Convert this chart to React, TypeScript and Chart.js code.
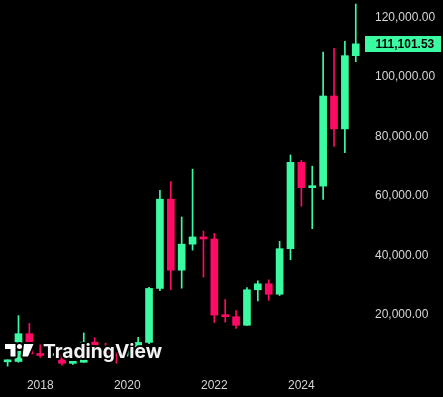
import React, { useEffect, useRef } from "react";
import { Chart, registerables } from "chart.js";

Chart.register(...registerables);

// Quarterly candles, 2017 Q3 .. 2025 Q3
const quarters = [
  "2017 Q3", "2017 Q4", "2018 Q1", "2018 Q2", "2018 Q3", "2018 Q4",
  "2019 Q1", "2019 Q2", "2019 Q3", "2019 Q4", "2020 Q1", "2020 Q2",
  "2020 Q3", "2020 Q4", "2021 Q1", "2021 Q2", "2021 Q3", "2021 Q4",
  "2022 Q1", "2022 Q2", "2022 Q3", "2022 Q4", "2023 Q1", "2023 Q2",
  "2023 Q3", "2023 Q4", "2024 Q1", "2024 Q2", "2024 Q3", "2024 Q4",
  "2025 Q1", "2025 Q2", "2025 Q3",
];
const opens = [
  4261, 4378, 13716, 6926, 6388, 6626, 3742, 4102, 10854, 8293, 7195, 6410,
  9138, 10777, 28923, 58917, 35045, 43791, 46217, 45539, 19942, 19423, 16542,
  28478, 30472, 26967, 42283, 71280, 62772, 63301, 93576, 82534, 107135,
];
const highs = [
  4939, 19798, 17176, 9990, 8491, 6800, 4140, 13970, 12392, 10540, 10500,
  10428, 12468, 29300, 61844, 64854, 52920, 69000, 48189, 47444, 25211, 21480,
  29184, 31432, 31804, 44729, 73777, 72000, 70000, 108353, 109588, 111980,
  124474,
];
const lows = [
  2817, 4110, 5902, 5755, 5880, 3156, 3349, 4080, 7711, 6515, 3782, 6150,
  8893, 10374, 28130, 28500, 29000, 41800, 32700, 17400, 17600, 15476, 16499,
  24750, 24901, 26538, 38555, 56552, 49000, 58867, 76606, 74508, 105100,
];
const closes = [
  4378, 13716, 6926, 6388, 6626, 3742, 4102, 10854, 8293, 7195, 6410, 9138,
  10777, 28923, 58917, 35045, 43791, 46216, 45538, 19942, 19423, 16542, 28478,
  30472, 26967, 42283, 71280, 62772, 63301, 93576, 82534, 107135, 111101.53,
];

const yearTickIndex = [3, 11, 19, 27];
const yearTickLabels = ["2018", "2020", "2022", "2024"];
const priceTicks = [20000, 40000, 60000, 80000, 100000, 120000];
const lastPrice = 111101.53;
const watermarkText = "TradingView";

const GREEN = "#3bfba2";
const RED = "#ff0a64";
const TEXT = "#d6d6d6";
const FONT = "'Liberation Sans', Arial, sans-serif";

const fmt = (v: number) =>
  v.toLocaleString("en-US", { minimumFractionDigits: 2, maximumFractionDigits: 2 });

const overlayPlugin = {
  id: "overlay",
  afterDatasetsDraw(chart: any) {
    const ctx = chart.ctx as CanvasRenderingContext2D;
    ctx.save();
    // --- watermark logo (black halo + white fill)
    const shapes = (c: CanvasRenderingContext2D) => {
      c.beginPath();
      c.moveTo(5, 344);
      c.lineTo(15.5, 344);
      c.lineTo(15.5, 356.5);
      c.lineTo(10.5, 356.5);
      c.lineTo(10.5, 349);
      c.lineTo(5, 349);
      c.closePath();
      c.moveTo(22, 346.5);
      c.arc(19.5, 346.5, 2.5, 0, Math.PI * 2);
      c.moveTo(24, 344);
      c.lineTo(33.5, 344);
      c.lineTo(28, 356.5);
      c.lineTo(22.5, 356.5);
      c.closePath();
    };
    ctx.lineJoin = "round";
    ctx.strokeStyle = "#000";
    ctx.lineWidth = 4;
    shapes(ctx);
    ctx.stroke();
    ctx.fillStyle = "#ffffff";
    shapes(ctx);
    ctx.fill();

    ctx.font = "bold 19px Inter, 'Open Sans', sans-serif";
    ctx.textBaseline = "alphabetic";
    ctx.textAlign = "left";
    const w = ctx.measureText(watermarkText).width;
    const sx = 119 / w;
    ctx.translate(43, 357.5);
    ctx.scale(sx, 1);
    ctx.lineWidth = 4 / sx;
    ctx.strokeStyle = "#000";
    ctx.strokeText(watermarkText, 0, 0);
    ctx.fillStyle = "#f2f2f2";
    ctx.fillText(watermarkText, 0, 0);
    ctx.restore();
  },
  afterDraw(chart: any) {
    const ctx = chart.ctx as CanvasRenderingContext2D;
    const yScale = chart.scales.y;
    const y = yScale.getPixelForValue(lastPrice);
    const left = chart.chartArea.right + 2;
    ctx.save();
    ctx.fillStyle = GREEN;
    ctx.fillRect(left, Math.round(y) - 8, 76, 16);
    ctx.fillStyle = "#050505";
    ctx.font = `bold 12px ${FONT}`;
    ctx.textBaseline = "middle";
    ctx.textAlign = "left";
    ctx.fillText(fmt(lastPrice), left + 10.5, Math.round(y) + 0.5);
    ctx.restore();
  },
};

export default function App() {
  const canvasRef = useRef<HTMLCanvasElement | null>(null);

  useEffect(() => {
    document.body.style.margin = "0";
    document.body.style.background = "#000";
    const canvas = canvasRef.current;
    if (!canvas) return;
    const idx = quarters.map((_, i) => i);
    const colors = idx.map((i) => (closes[i] >= opens[i] ? GREEN : RED));

    const chart = new Chart(canvas, {
      type: "bar",
      data: {
        datasets: [
          {
            label: "wick",
            data: idx.map((i) => ({ x: i, y: [lows[i], highs[i]] })) as any,
            backgroundColor: colors,
            barThickness: 1,
            grouped: false,
            order: 2,
          } as any,
          {
            label: "body",
            data: idx.map((i) => ({ x: i, y: [opens[i], closes[i]] })) as any,
            backgroundColor: colors,
            barThickness: 7,
            minBarLength: 2,
            grouped: false,
            order: 1,
          } as any,
        ],
      },
      options: {
        animation: false,
        responsive: true,
        maintainAspectRatio: false,
        layout: { padding: 0 },
        plugins: {
          legend: { display: false },
          tooltip: { enabled: false },
        },
        scales: {
          x: {
            type: "linear",
            offset: false,
            min: -0.6985,
            max: 32.665,
            grid: { display: false, drawTicks: false },
            border: { display: false },
            afterBuildTicks: (scale: any) => {
              scale.ticks = yearTickIndex.map((v) => ({ value: v }));
            },
            afterFit: (scale: any) => {
              scale.height = 22;
              scale.paddingLeft = 0;
              scale.paddingRight = 0;
              scale.paddingTop = 0;
              scale.paddingBottom = 0;
            },
            ticks: {
              autoSkip: false,
              maxRotation: 0,
              padding: 3,
              color: TEXT,
              font: { family: FONT, size: 12 },
              callback: (value: any) => {
                const k = yearTickIndex.indexOf(Number(value));
                return k >= 0 ? yearTickLabels[k] : "";
              },
            },
          },
          y: {
            type: "linear",
            position: "right",
            min: -170,
            max: 125840,
            grid: { display: false, drawTicks: false },
            border: { display: false },
            afterBuildTicks: (scale: any) => {
              scale.ticks = priceTicks.map((v) => ({ value: v }));
            },
            afterFit: (scale: any) => {
              scale.width = 80;
              scale.paddingLeft = 0;
              scale.paddingRight = 0;
              scale.paddingTop = 0;
              scale.paddingBottom = 0;
            },
            ticks: {
              padding: 12,
              color: TEXT,
              font: { family: FONT, size: 12 },
              callback: (value: any) => fmt(Number(value)),
            },
          },
        },
      } as any,
      plugins: [overlayPlugin],
    });
    return () => chart.destroy();
  }, []);

  return (
    <div style={{ width: 443, height: 397, background: "#000", position: "relative" }}>
      <canvas ref={canvasRef} />
    </div>
  );
}
